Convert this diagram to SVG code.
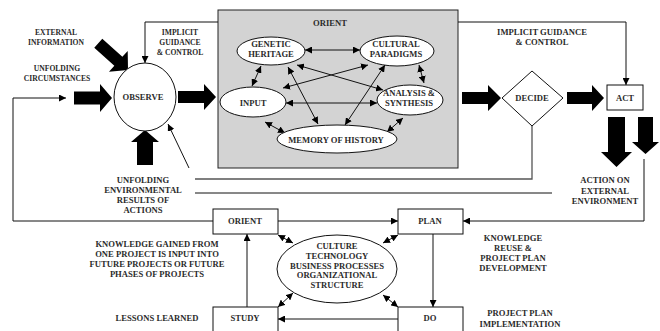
<svg xmlns="http://www.w3.org/2000/svg" width="660" height="331" viewBox="0 0 660 331">
<style>
text{font-family:"Liberation Serif","Times New Roman",serif;font-weight:bold;font-size:8.6px;fill:#2a2a2a;text-anchor:middle}
text.sm{font-size:7.6px}
.ln{fill:none;stroke:#111;stroke-width:1}
.ah{fill:none;stroke:#111;stroke-width:1;marker-end:url(#ah)}
.dbl{fill:none;stroke:#111;stroke-width:1;marker-start:url(#ah);marker-end:url(#ah)}
.blk{fill:#000}
.nd{fill:#fff;stroke:#111;stroke-width:1}
</style>
<defs>
<marker id="ah" viewBox="0 0 10 10" refX="10" refY="5" markerWidth="7" markerHeight="7" markerUnits="userSpaceOnUse" orient="auto-start-reverse"><path d="M0,0 L10,5 L0,10 z" fill="#000"/></marker>
</defs>
<g id="orient-box">
<rect x="218" y="10" width="240" height="158" fill="#d3d3d3" stroke="#222" stroke-width="1"/>
<text x="330" y="26">ORIENT</text>
</g>
<g id="connectors">
<polyline class="ah" points="218,22 145,22 145,63"/>
<polyline class="ah" points="458,22 626,22 626,85"/>
<polyline fill="none" stroke="#555" stroke-width="1.3" points="532,126 532,179 195,179"/>
<line class="ln" x1="195" y1="193" x2="552" y2="193"/>
<line class="ah" x1="189" y1="168" x2="168" y2="124"/>
<polyline class="ah" points="644,159 644,221 463,221"/>
<polyline class="ah" points="213,221 13,221 13,98 66,98"/>
<line class="ah" x1="278" y1="221" x2="398" y2="221"/>
<line class="ah" x1="247" y1="307" x2="247" y2="234"/>
<line class="ah" x1="433" y1="234" x2="433" y2="307"/>
<line class="ah" x1="398" y1="319" x2="278" y2="319"/>
<line class="dbl" x1="278" y1="235" x2="293" y2="243"/>
<line class="dbl" x1="278" y1="307" x2="293" y2="293"/>
<line class="dbl" x1="398" y1="235" x2="383" y2="243"/>
<line class="dbl" x1="398" y1="307" x2="383" y2="295"/>
<line class="dbl" x1="305" y1="50" x2="360" y2="50"/>
<line class="dbl" x1="261" y1="66" x2="252" y2="86"/>
<line class="dbl" x1="297" y1="65" x2="383" y2="90"/>
<line class="dbl" x1="288" y1="67" x2="318" y2="124"/>
<line class="dbl" x1="368" y1="65" x2="283" y2="88"/>
<line class="dbl" x1="385" y1="65" x2="345" y2="125"/>
<line class="dbl" x1="419" y1="65" x2="424" y2="83"/>
<line class="dbl" x1="286" y1="103" x2="377" y2="103"/>
<line class="dbl" x1="265" y1="122" x2="285" y2="133"/>
<line class="dbl" x1="403" y1="118" x2="387" y2="132"/>
<polygon class="blk" points="74,91.5 100,91.5 100,84 112,98 100,112 100,104.5 74,104.5"/>
<polygon class="blk" points="-40,-6 -13,-6 -13,-14 0,0 -13,14 -13,6 -40,6" transform="translate(128,70) rotate(42)"/>
<polygon class="blk" points="137,165 137,142 131,142 145,130 159,142 153,142 153,165"/>
<polygon class="blk" points="178,91 204,91 204,84 216,97 204,110 204,103 178,103"/>
<polygon class="blk" points="462,92 488,92 488,85 501,98 488,111 488,104 462,104"/>
<polygon class="blk" points="567,92 592,92 592,85 604,98 592,111 592,104 567,104"/>
<polygon class="blk" points="608,117 625,117 625,152 632,152 616.5,167 601,152 608,152"/>
<polygon class="blk" points="638,117 653,117 653,142 659,142 645.5,154 632,142 638,142"/>
</g>
<g id="observe"><ellipse class="nd" cx="145" cy="97" rx="31" ry="34"/><text x="143" y="100">OBSERVE</text></g>
<g id="genetic"><ellipse class="nd" cx="271" cy="51" rx="34" ry="14"/><text x="271" y="47">GENETIC</text><text x="271" y="57">HERITAGE</text></g>
<g id="cultural"><ellipse class="nd" cx="397" cy="51" rx="37" ry="15"/><text x="396" y="47">CULTURAL</text><text x="396" y="57">PARADIGMS</text></g>
<g id="input"><ellipse class="nd" cx="253" cy="102" rx="33" ry="15"/><text x="253" y="106">INPUT</text></g>
<g id="analysis"><ellipse class="nd" cx="410" cy="100" rx="33" ry="15"/><text x="409" y="96">ANALYSIS &amp;</text><text x="409" y="106">SYNTHESIS</text></g>
<g id="memory"><ellipse class="nd" cx="337" cy="139" rx="60" ry="14"/><text x="336" y="143">MEMORY OF HISTORY</text></g>
<g id="decide"><polygon class="nd" points="532,71 563,98 532,126 502,98"/><text x="532" y="101">DECIDE</text></g>
<g id="act"><rect class="nd" x="607" y="85" width="36" height="25"/><text x="625" y="101">ACT</text></g>
<g id="orient2"><rect class="nd" x="213" y="209" width="65" height="25"/><text x="245" y="224">ORIENT</text></g>
<g id="plan"><rect class="nd" x="398" y="209" width="65" height="25"/><text x="430" y="224">PLAN</text></g>
<g id="study"><rect class="nd" x="213" y="307" width="65" height="30"/><text x="245" y="321">STUDY</text></g>
<g id="do"><rect class="nd" x="398" y="307" width="65" height="30"/><text x="430" y="321">DO</text></g>
<g id="culture"><ellipse class="nd" cx="337" cy="269" rx="60" ry="34"/>
<text x="337" y="249">CULTURE</text><text x="337" y="259">TECHNOLOGY</text><text x="337" y="268.5">BUSINESS PROCESSES</text><text x="337" y="278">ORGANIZATIONAL</text><text x="337" y="287.5">STRUCTURE</text></g>
<g id="labels">
<text class="sm" x="56" y="35">EXTERNAL</text><text class="sm" x="56" y="45">INFORMATION</text>
<text class="sm" x="57" y="71">UNFOLDING</text><text class="sm" x="57" y="81">CIRCUMSTANCES</text>
<text class="sm" x="180" y="35">IMPLICIT</text><text class="sm" x="180" y="45">GUIDANCE</text><text class="sm" x="180" y="55">&amp; CONTROL</text>
<text x="542" y="35">IMPLICIT GUIDANCE</text><text x="542" y="45">&amp; CONTROL</text>
<text x="605" y="183">ACTION ON</text><text x="605" y="193.5">EXTERNAL</text><text x="605" y="204">ENVIRONMENT</text>
<text x="143" y="183">UNFOLDING</text><text x="143" y="193">ENVIRONMENTAL</text><text x="143" y="203">RESULTS OF</text><text x="143" y="212.5">ACTIONS</text>
<text x="157" y="247">KNOWLEDGE GAINED FROM</text><text x="157" y="257">ONE PROJECT IS INPUT INTO</text><text x="157" y="267">FUTURE PROJECTS OR FUTURE</text><text x="157" y="277">PHASES OF PROJECTS</text>
<text x="157" y="321">LESSONS LEARNED</text>
<text x="513" y="241">KNOWLEDGE</text><text x="513" y="251">REUSE &amp;</text><text x="513" y="261">PROJECT PLAN</text><text x="513" y="271">DEVELOPMENT</text>
<text x="520" y="316">PROJECT PLAN</text><text x="520" y="327">IMPLEMENTATION</text>
</g>
</svg>
